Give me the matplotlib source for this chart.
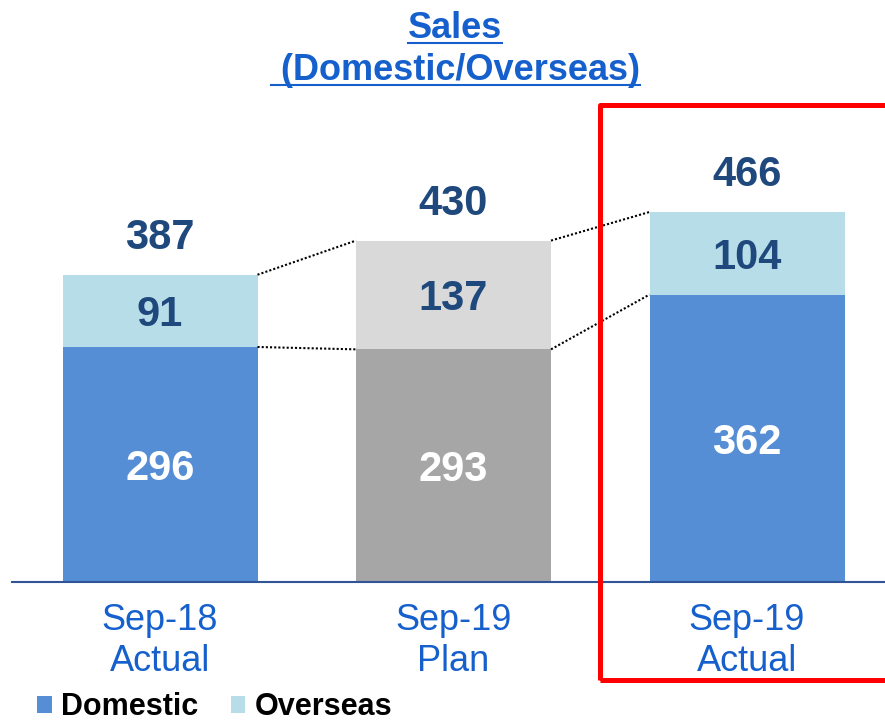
import matplotlib
matplotlib.use("Agg")
import matplotlib.pyplot as plt
from matplotlib.patches import Rectangle
from matplotlib.lines import Line2D

plt.rcParams['font.family'] = ['Liberation Sans', 'DejaVu Sans']

# data
periods = ['Sep-18\nActual', 'Sep-19\nPlan', 'Sep-19\nActual']
domestic = [296, 293, 362]
overseas = [91, 137, 104]
totals = [387, 430, 466]

dom_colors = ['#558ED5', '#A6A6A6', '#558ED5']
ovs_colors = ['#B7DDE8', '#D9D9D9', '#B7DDE8']
label_blue = '#1F497D'
title_blue = '#1560CC'

W, H = 885, 724
fig = plt.figure(figsize=(W / 100, H / 100), dpi=100)
ax = fig.add_axes([0, 142 / H, 1, 582 / H])

x = list(range(len(periods)))
step = 293.5
width = 195 / step

b1 = ax.bar(x, domestic, width=width, color=dom_colors, label='Domestic')
b2 = ax.bar(x, overseas, width=width, bottom=domestic, color=ovs_colors, label='Overseas')

xmin, xmax = -160 / step, (W - 160) / step
ax.set_xlim(xmin, xmax)
ax.set_ylim(0, 582 / 0.794)

# value labels
for i in x:
    ax.text(i, domestic[i] / 2, str(domestic[i]), ha='center', va='center_baseline',
            fontsize=30, fontweight='bold', color='white')
    ax.text(i, domestic[i] + overseas[i] / 2, str(overseas[i]), ha='center',
            va='center_baseline', fontsize=30, fontweight='bold', color=label_blue)
    ax.annotate(str(totals[i]), (i, totals[i]), xytext=(0, 18.5), textcoords='offset points',
                ha='center', va='baseline', fontsize=30, fontweight='bold', color=label_blue)

# dotted connectors between bars
for i in range(len(x) - 1):
    for a, b in [(totals[i], totals[i + 1]), (domestic[i], domestic[i + 1])]:
        ax.plot([i + width / 2, i + 1 - width / 2], [a, b], color='black', lw=1.5,
                dashes=(1, 1))

for s in ['top', 'right', 'left']:
    ax.spines[s].set_visible(False)
ax.spines['bottom'].set_color('#2F5597')
ax.spines['bottom'].set_linewidth(1.5)
ax.spines['bottom'].set_bounds(-148 / step, xmax)
ax.set_yticks([])
ax.set_xticks(x)
ax.set_xticklabels(periods, fontsize=26, color=title_blue, linespacing=1.22)
ax.tick_params(axis='x', length=0, pad=15)

# title with underlines
t1 = fig.text(455 / W, 1 - 38 / H, 'Sales', ha='center', va='baseline',
              fontsize=26, fontweight='bold', color=title_blue)
t2 = fig.text(455 / W, 1 - 80 / H, ' (Domestic/Overseas)', ha='center', va='baseline',
              fontsize=26, fontweight='bold', color=title_blue)

# highlight box
fig.patches.append(Rectangle((600 / W, 1 - 680 / H), 400 / W, 575 / H,
                             transform=fig.transFigure, fill=False, edgecolor='#FF0000',
                             lw=3.6, joinstyle='round', zorder=5))

fig.legend(handles=[b1[0], b2[0]], labels=['Domestic', 'Overseas'], loc='lower left',
           bbox_to_anchor=(37 / W, 2 / H), ncol=2, frameon=False, borderpad=0,
           borderaxespad=0, handlelength=0.48, handleheight=0.48, handletextpad=0.32,
           columnspacing=1.05, prop={'weight': 'bold', 'size': 22})

fig.canvas.draw()
r = fig.canvas.get_renderer()
for t, yy in [(t1, 42.5), (t2, 85)]:
    bb = t.get_window_extent(r)
    fig.lines.append(Line2D([bb.x0 / W, bb.x1 / W], [1 - yy / H, 1 - yy / H],
                            transform=fig.transFigure, color=title_blue, lw=1.5))

fig.savefig('out.png', dpi=100)
